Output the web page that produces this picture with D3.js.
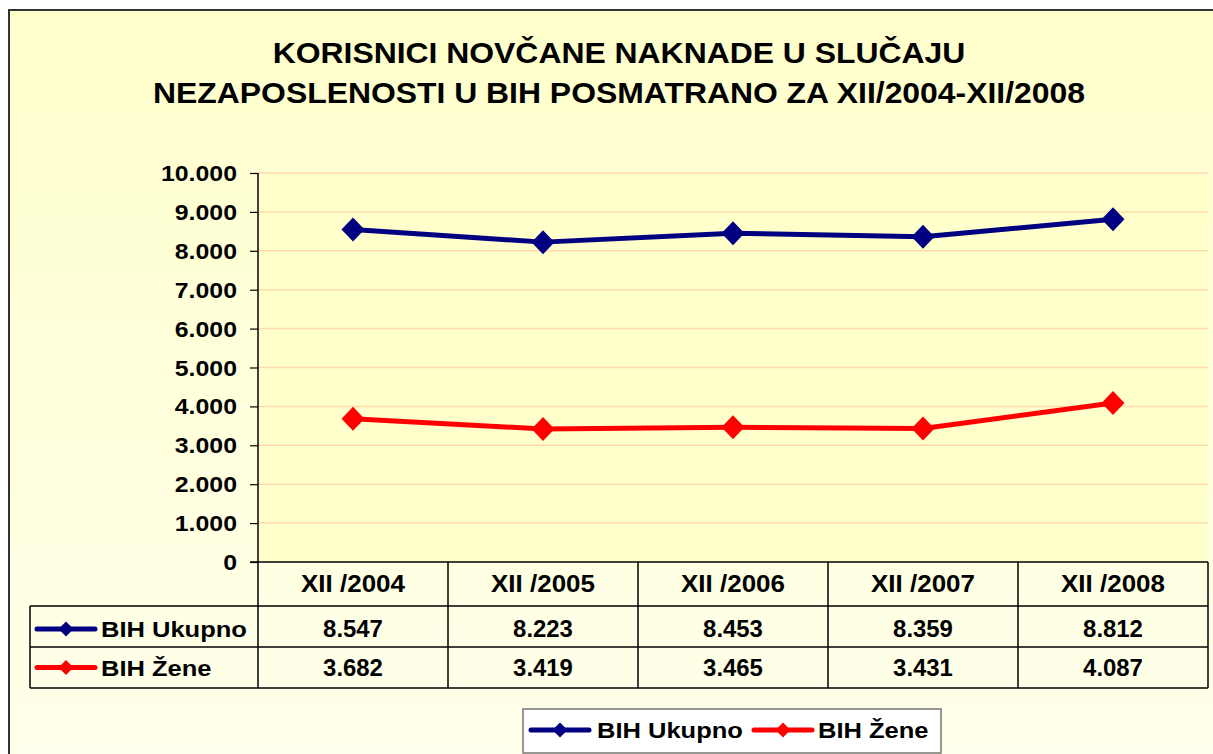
<!DOCTYPE html>
<html><head><meta charset="utf-8">
<script src="https://cdn.jsdelivr.net/npm/d3@7"></script>
<style>body{margin:0;background:#fff}svg{display:block}text{font-family:"Liberation Sans",Arial,sans-serif;font-weight:bold;fill:#000}</style>
</head><body><svg id="c" width="1213" height="754"></svg>
<script>
const titleLines = ["KORISNICI NOVČANE NAKNADE U SLUČAJU", "NEZAPOSLENOSTI U BIH POSMATRANO ZA XII/2004-XII/2008"];
const categories = ["XII /2004", "XII /2005", "XII /2006", "XII /2007", "XII /2008"];
const seriesNames = ["BIH Ukupno", "BIH Žene"];
const ukupno = [8547, 8223, 8453, 8359, 8812];
const zene = [3682, 3419, 3465, 3431, 4087];
const yTicks = [0, 1000, 2000, 3000, 4000, 5000, 6000, 7000, 8000, 9000, 10000];
const colors = ["#000080", "#FF0000"];

const series = [ukupno, zene];
const fmt = d3.formatLocale({decimal: ",", thousands: ".", grouping: [3], currency: ["", ""]}).format(",");
const svg = d3.select("#c");
const defs = svg.append("defs");
const g = defs.append("linearGradient").attr("id","bg").attr("x1",0).attr("y1",0).attr("x2",0).attr("y2",1);
g.append("stop").attr("offset","0").attr("stop-color","#FFFFCC");
g.append("stop").attr("offset","1").attr("stop-color","#FFFFEC");
svg.append("rect").attr("x",9).attr("y",10).attr("width",1230).attr("height",760).attr("fill","url(#bg)").attr("stroke","#333").attr("stroke-width",2);

const x = d3.scaleBand().domain(categories).range([258, 1208]);
const y = d3.scaleLinear().domain([0, 10000]).range([562, 173]);
const cx = c => x(c) + x.bandwidth() / 2;

// stretched text helper
function stext(sel, tx, ty, size, sx, anchor, str){
  return sel.append("text").attr("transform",`translate(${tx},${ty}) scale(${sx},1)`)
    .attr("text-anchor",anchor).attr("font-size",size).text(str);
}

// plot area
svg.append("rect").attr("x",258).attr("y",173).attr("width",950).attr("height",389).attr("fill","#FFFFCC");

// title
titleLines.forEach((t,i)=>stext(svg, 619, 63 + i*40.3, 29, 1.1, "middle", t));

// gridlines
svg.append("g").selectAll("line").data(yTicks.filter(d=>d>0)).join("line")
  .attr("x1",258).attr("x2",1208).attr("y1",d=>y(d)).attr("y2",d=>y(d)).attr("stroke","#FFD9A8").attr("stroke-width",1.5);

// y axis
const yAxis = svg.append("g").attr("transform","translate(258,0)")
  .call(d3.axisLeft(y).tickValues(yTicks).tickFormat("").tickSize(8));
yAxis.select(".domain").attr("stroke","#000").attr("stroke-width",1.5).attr("d","M0,173V562");
yAxis.selectAll(".tick line").attr("stroke","#000").attr("stroke-width",1.2);
yTicks.forEach(v=>stext(svg, 237, y(v)+8, 22, 1.13, "end", fmt(v)));

// table
const tbl = svg.append("g").attr("stroke","#000").attr("stroke-width",1.5);
const rowY = [562, 606, 647, 688];
tbl.append("line").attr("x1",250).attr("x2",1208).attr("y1",rowY[0]).attr("y2",rowY[0]);
[1,2,3].forEach(i=>tbl.append("line").attr("x1",30).attr("x2",1208).attr("y1",rowY[i]).attr("y2",rowY[i]));
tbl.append("line").attr("x1",30).attr("x2",30).attr("y1",rowY[1]).attr("y2",rowY[3]);
tbl.selectAll("line.v").data(categories).join("line").attr("class","v")
  .attr("x1",d=>x(d)).attr("x2",d=>x(d)).attr("y1",rowY[0]).attr("y2",rowY[3]);
tbl.append("line").attr("x1",1208).attr("x2",1208).attr("y1",rowY[0]).attr("y2",rowY[3]);

categories.forEach(c=>stext(svg, cx(c), 591.5, 23, 1.13, "middle", c));

function diamondPath(w,h){ return `M0,${-h}L${w},0L0,${h}L${-w},0Z`; }
function legendKey(sel, kx, ky, color, len, w){
  sel.append("line").attr("x1",kx-len/2).attr("x2",kx+len/2).attr("y1",ky).attr("y2",ky)
    .attr("stroke",color).attr("stroke-width",5).attr("stroke-linecap","round");
  sel.append("path").attr("d",diamondPath(w,w)).attr("transform",`translate(${kx},${ky})`).attr("fill",color);
}
const rowBase = [637, 675.5];
series.forEach((s,i)=>{
  const ky = rowBase[i] - 8;
  legendKey(svg.append("g"), 66, ky, colors[i], 58, 7.5);
  stext(svg, 101, rowBase[i], 22, 1.16, "start", seriesNames[i]);
  s.forEach((v,j)=>stext(svg, cx(categories[j]), rowBase[i], 23, 1.04, "middle", fmt(v)));
});

// lines
const line = d3.line().x((d,j)=>cx(categories[j])).y(d=>y(d));
series.forEach((s,i)=>{
  svg.append("path").datum(s).attr("d",line).attr("fill","none").attr("stroke",colors[i]).attr("stroke-width",5).attr("stroke-linejoin","round");
  svg.append("g").selectAll("path").data(s).join("path")
    .attr("d",diamondPath(11.5,12)).attr("transform",(d,j)=>`translate(${cx(categories[j])},${y(d)})`).attr("fill",colors[i]);
});

// legend
const lg = svg.append("g");
lg.append("rect").attr("x",523).attr("y",709).attr("width",418).attr("height",44).attr("fill","#fff").attr("stroke","#777").attr("stroke-width",1.5);
legendKey(lg, 560, 730, colors[0], 58, 7.5);
stext(lg, 597, 738, 22, 1.16, "start", seriesNames[0]);
legendKey(lg, 783, 730, colors[1], 58, 7.5);
stext(lg, 818, 738, 22, 1.16, "start", seriesNames[1]);
</script></body></html>
